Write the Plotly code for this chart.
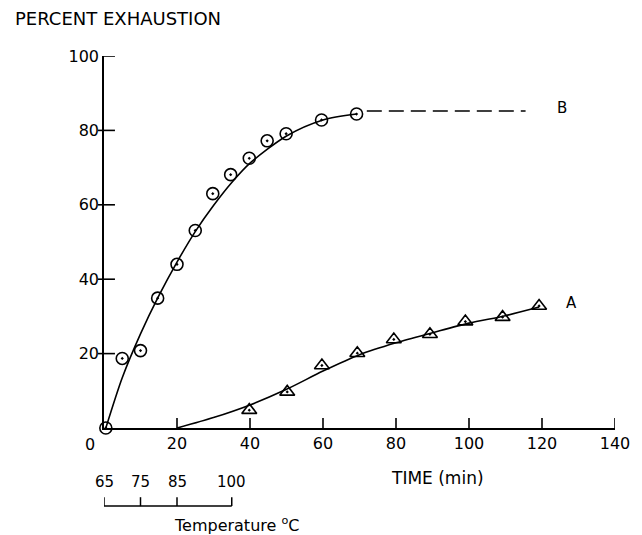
import plotly.graph_objects as go

# Series B: measured points (circles) and the smoothed curve through them
b_time = [0.5, 5, 10, 14.7, 20, 25, 29.8, 34.7, 39.8, 44.7, 49.9, 59.6, 69.2]
b_pct = [0, 18.7, 20.8, 34.9, 44.0, 53.1, 63.0, 68.1, 72.5, 77.2, 79.1, 82.8, 84.4]
b_curve_time = [0.5, 5, 10, 15, 20, 25, 30, 35, 40, 50, 60, 69.2]
b_curve_pct = [0, 13.5, 25.3, 35.5, 44.6, 52.8, 59.8, 66.0, 71.2, 78.5, 82.8, 84.4]
# Plateau of B, continued as a dashed line
b_plateau_time = [72, 115.5]
b_plateau_pct = [85.2, 85.2]

# Series A: measured points (triangles) and the smoothed curve
a_time = [39.8, 50.2, 59.7, 69.4, 79.4, 89.3, 99.0, 109.2, 119.2]
a_pct = [4.8, 9.7, 16.8, 20.1, 23.8, 25.2, 28.6, 29.8, 32.8]
a_curve_time = [20, 30, 40, 50, 60, 70, 80, 90, 100, 110, 119.2]
a_curve_pct = [0, 2.8, 6.2, 10.4, 15.3, 19.7, 22.9, 25.6, 28.2, 30.2, 32.5]

# Axis ticks
x_ticks = [20, 40, 60, 80, 100, 120, 140]
y_ticks = [20, 40, 60, 80, 100]

# Temperature scale under the time axis (temperature reached at a given time)
temp_labels = ["65", "75", "85", "100"]
temp_times = [0, 10, 20, 35]

FONT = "DejaVu Sans"
INK = "black"
LW = 1.6

# Plot area size in pixels, used to express tick lengths in paper units
W, H = 642, 535
ML, MR, MT, MB = 104, 25, 56, 107
PW, PH = W - ML - MR, H - MT - MB

fig = go.Figure()

fig.add_trace(go.Scatter(x=b_curve_time, y=b_curve_pct, mode="lines",
                         line=dict(color=INK, width=LW, shape="spline", smoothing=0.8),
                         hoverinfo="skip", cliponaxis=False))
fig.add_trace(go.Scatter(x=b_plateau_time, y=b_plateau_pct, mode="lines",
                         line=dict(color=INK, width=LW, dash="15px,7px"),
                         hoverinfo="skip", cliponaxis=False))
fig.add_trace(go.Scatter(x=a_curve_time, y=a_curve_pct, mode="lines",
                         line=dict(color=INK, width=LW, shape="spline", smoothing=0.8),
                         hoverinfo="skip", cliponaxis=False))
fig.add_trace(go.Scatter(x=b_time, y=b_pct, mode="markers", name="B",
                         marker=dict(symbol="circle-open-dot", size=12, color=INK,
                                     line=dict(width=LW, color=INK)),
                         cliponaxis=False))
fig.add_trace(go.Scatter(x=a_time, y=a_pct, mode="markers", name="A",
                         marker=dict(symbol="triangle-up-open-dot", size=13, color=INK,
                                     line=dict(width=LW, color=INK)),
                         cliponaxis=False))

shapes = []
# Y ticks cross the axis line: 6 px outside, 11 px inside (the top one only inside)
for v in y_ticks:
    x0 = 0 if v == y_ticks[-1] else -6 / PW
    shapes.append(dict(type="line", xref="paper", yref="y", x0=x0, x1=11 / PW,
                       y0=v, y1=v, line=dict(color=INK, width=LW), layer="above"))
# X ticks point up into the plot
for v in x_ticks:
    shapes.append(dict(type="line", xref="x", yref="paper", x0=v, x1=v,
                       y0=0, y1=10 / PH, line=dict(color=INK, width=LW), layer="above"))

# Temperature bracket
bar_y = -0.21
tick_top = -0.186
shapes.append(dict(type="line", xref="x", yref="paper", x0=temp_times[0], x1=temp_times[-1],
                   y0=bar_y, y1=bar_y, line=dict(color=INK, width=1.5)))
for t in temp_times:
    shapes.append(dict(type="line", xref="x", yref="paper", x0=t, x1=t,
                       y0=bar_y, y1=tick_top, line=dict(color=INK, width=1.5)))

annotations = []
for lab, t in zip(temp_labels, temp_times):
    annotations.append(dict(x=t, y=-0.145, xref="x", yref="paper", text=lab,
                            showarrow=False, xanchor="center", yanchor="middle",
                            font=dict(family=FONT, size=15, color=INK)))
annotations += [
    dict(x=-0.179, y=1.10, xref="paper", yref="paper", text="PERCENT EXHAUSTION",
         showarrow=False, xanchor="left", yanchor="middle",
         font=dict(family=FONT, size=18, color=INK)),
    dict(x=0.653, y=-0.134, xref="paper", yref="paper", text="TIME (min)",
         showarrow=False, xanchor="center", yanchor="middle",
         font=dict(family=FONT, size=17, color=INK)),
    dict(x=-0.028, y=-0.045, xref="paper", yref="paper", text="0",
         showarrow=False, xanchor="center", yanchor="middle",
         font=dict(family=FONT, size=16, color=INK)),
    dict(x=0.26, y=-0.26, xref="paper", yref="paper",
         text="Temperature <sup>o</sup>C",
         showarrow=False, xanchor="center", yanchor="middle",
         font=dict(family=FONT, size=16, color=INK)),
    dict(x=125.5, y=86, xref="x", yref="y", text="B", showarrow=False,
         xanchor="center", yanchor="middle", font=dict(family=FONT, size=15, color=INK)),
    dict(x=128, y=33.7, xref="x", yref="y", text="A", showarrow=False,
         xanchor="center", yanchor="middle", font=dict(family=FONT, size=15, color=INK)),
]

fig.update_layout(
    width=W, height=H,
    margin=dict(l=ML, r=MR, t=MT, b=MB),
    paper_bgcolor="white", plot_bgcolor="white",
    showlegend=False,
    shapes=shapes,
    annotations=annotations,
    xaxis=dict(range=[0, 140], tickvals=x_ticks, ticks="",
               showline=True, linecolor=INK, linewidth=LW,
               showgrid=False, zeroline=False,
               tickfont=dict(family=FONT, size=16, color=INK)),
    yaxis=dict(range=[0, 100], tickvals=y_ticks, ticks="",
               showline=True, linecolor=INK, linewidth=LW,
               showgrid=False, zeroline=False,
               tickfont=dict(family=FONT, size=16, color=INK)),
)

fig.write_html("out.html")
